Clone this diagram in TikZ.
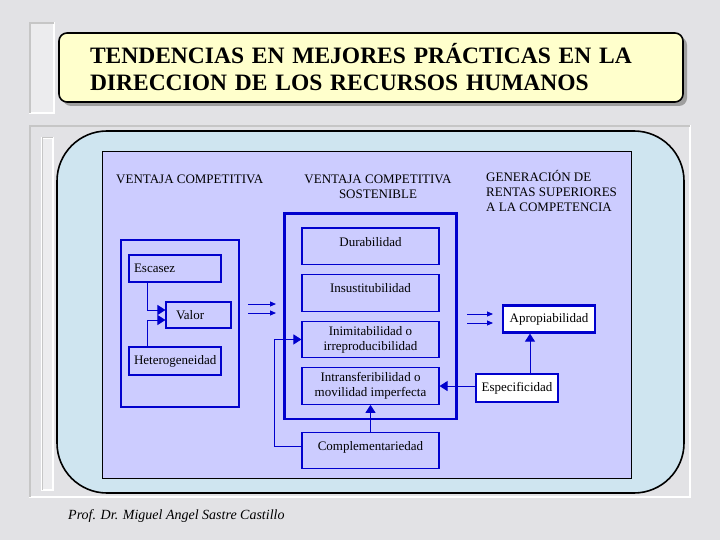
\documentclass[tikz,border=0pt]{standalone}
\usepackage{fontspec}
\setmainfont{Liberation Serif}
\usepackage{tikz}
\usetikzlibrary{arrows.meta, positioning, fit, shadows}
\usepackage{xcolor}
\definecolor{cMarble}{RGB}{226,226,229}
\definecolor{cPale}{RGB}{236,236,238}
\definecolor{cCream}{RGB}{255,255,204}
\definecolor{cIce}{RGB}{207,229,240}
\definecolor{cLav}{RGB}{204,204,255}
\definecolor{cBlue}{RGB}{0,0,205}
\newcommand{\boxfont}{\fontsize{13}{15}\selectfont}
\tikzset{
  titlebox/.style={rectangle, rounded corners=8pt, draw=black, line width=1.6pt,
                   fill=cCream, minimum width=624pt, minimum height=69pt,
                   text width=562pt, align=left,
                   font=\bfseries\fontsize{23.5}{27}\selectfont,
                   drop shadow={shadow xshift=4pt, shadow yshift=-4pt,
                                fill=gray!75, opacity=1}},
  panel/.style={rectangle, rounded corners=50pt, draw=black, line width=1.6pt,
                fill=cIce},
  board/.style={rectangle, draw=black, line width=0.8pt, fill=cLav},
  headtext/.style={inner sep=0pt, font=\boxfont},
  thickbox/.style={rectangle, draw=cBlue, line width=2.2pt, font=\boxfont},
  thinbox/.style={rectangle, draw=cBlue, line width=1.1pt, align=center,
                  font=\boxfont, minimum width=137pt, minimum height=36.5pt},
  raised/.style={text depth=9pt},
  linkarrow/.style={-{Triangle[length=8pt,width=10pt]}, draw=cBlue, line width=1pt},
  dblarrow/.style={-{Triangle[length=6pt,width=5pt]}, draw=cBlue, line width=1pt},
  bevel/.style={draw=white, line width=1.6pt}
}

\begin{document}
\begin{tikzpicture}[x=1pt, y=-1pt, node distance=9pt and 10pt]

  \useasboundingbox[fill=cMarble] (0,0) rectangle (720,540);

  % ── frames ──
  \draw[bevel, fill=cPale] (30,23) rectangle (54,113);
  \draw[gray!45, line width=1.2pt] (30,113) |- (54,23);
  \draw[bevel] (30,126) rectangle (690,497);
  \draw[gray!45, line width=1.2pt] (30,497) |- (690,126);
  \draw[bevel, fill=cPale] (42,138) rectangle (53,490);
  \draw[gray!45, line width=1pt] (42,490) |- (53,138);

  \node[titlebox] (title) at (371,67.5)
      {TENDENCIAS EN MEJORES PRÁCTICAS EN LA\\DIRECCION DE LOS RECURSOS HUMANOS};

  \node[panel, minimum width=627pt, minimum height=362pt] (panel) at (370.5,312) {};
  \node[board, minimum width=529pt, minimum height=327pt] (board) at (366.5,314.5) {};

  % ── column heads ──
  \node[headtext, anchor=north west] (vc) at (116,174.4) {VENTAJA COMPETITIVA};
  \node[headtext, anchor=north, align=center] (vcs) at (378,174.4)
      {VENTAJA COMPETITIVA\\SOSTENIBLE};
  \node[headtext, anchor=north west, align=left] (gen) at (486,170.4)
      {GENERACIÓN DE\\RENTAS SUPERIORES\\A LA COMPETENCIA};

  % ── left group ──
  \node[thickbox, minimum width=118pt, minimum height=167pt] (leftgrp) at (180,323.5) {};
  \node[thickbox, text width=82pt, inner xsep=5pt, minimum height=27pt, align=left]
      (escasez) at (175,268.5) {Escasez};
  \node[thinbox, text width=45pt, inner xsep=10pt, minimum width=65pt,
        minimum height=26pt, align=left] (valor) at (198.5,315) {Valor};
  \node[thickbox, text width=82pt, inner xsep=5pt, minimum height=28pt, align=left]
      (hetero) at (175,361) {Heterogeneidad};

  % ── middle group ──
  \node[thinbox, raised] (durab) at (370.5,246.25) {Durabilidad};
  \node[thinbox, raised, below=of durab] (insust) {Insustitubilidad};
  \node[thinbox, below=of insust] (inimit) {Inimitabilidad o\\irreproducibilidad};
  \node[thinbox, below=of inimit] (intransf) {Intransferibilidad o\\movilidad imperfecta};
  \node[thinbox, raised, below=27pt of intransf] (complem) {Complementariedad};
  \node[thickbox, fit=(durab)(intransf), inner xsep=17pt, inner ysep=14pt] (midgrp) {};

  % ── right group ──
  \node[thickbox, fill=white, minimum width=92pt, minimum height=27pt]
      (apropia) at (549,319) {Apropiabilidad};
  \node[thickbox, fill=white, minimum width=82pt, minimum height=28pt]
      (especif) at (517,388) {Especificidad};

  \draw[linkarrow] ([xshift=20pt]escasez.south west) |- ([yshift=5pt]valor.west);
  \draw[linkarrow] ([xshift=20pt]hetero.north west) |- ([yshift=-5pt]valor.west);
  \draw[linkarrow] ([yshift=4pt]complem.west) -- ++(-27pt,0) |- (inimit.west);
  \draw[linkarrow] (complem.north) -- (intransf.south);
  \draw[linkarrow] (intransf.east -| especif.west) -- (intransf.east);
  \draw[linkarrow] ([xshift=13pt]especif.north) -- ([xshift=13pt]especif.north |- apropia.south);

  \foreach \yy in {304,313}{
    \coordinate (from) at (248,\yy);
    \coordinate (to) at (276,\yy);
    \draw[dblarrow] (from) -- (to);
  }
  \foreach \yy in {314,323}{
    \coordinate (from) at (467,\yy);
    \coordinate (to) at (493,\yy);
    \draw[dblarrow] (from) -- (to);
  }

  \node[anchor=base west, inner sep=0pt, font=\fontsize{14}{16}\selectfont\itshape]
      (author) at (68,519) {Prof. Dr. Miguel Angel Sastre Castillo};

\end{tikzpicture}
\end{document}
